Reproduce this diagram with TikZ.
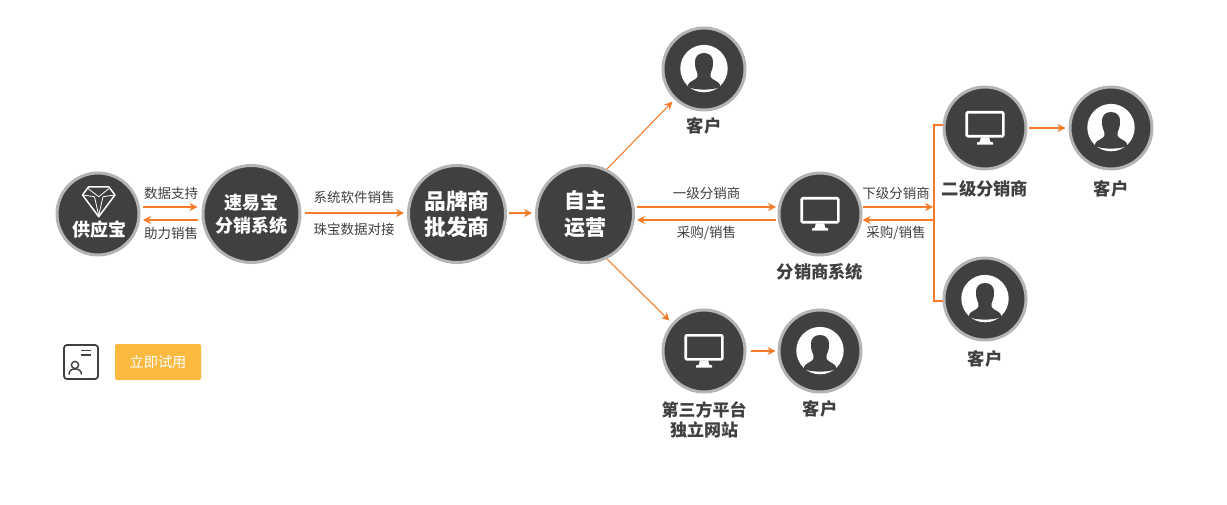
\documentclass[tikz,border=0pt]{standalone}
\usepackage{fontspec}
\setmainfont{Noto Sans CJK SC}
\usetikzlibrary{arrows.meta}
\definecolor{ink}{HTML}{404040}
\definecolor{ring}{HTML}{B4B4B4}
\definecolor{org}{HTML}{F57B28}
\definecolor{btn}{HTML}{FBB940}
\tikzset{
  ball/.style={circle,draw=ring,fill=ink,line width=3,inner sep=0,text=white,align=center,font=\bfseries},
  bsmall/.style={ball,minimum size=82},
  bbig/.style={ball,minimum size=97},
  arr/.style={draw=org,line width=1.05,-{Stealth[length=8,width=8,inset=2.6]}},
  plain/.style={draw=org,line width=1.05},
  lab/.style={text=ink,inner sep=0,font=\fontsize{13.5}{16}\selectfont},
  captxt/.style={text=ink,inner sep=0,align=center,font=\fontsize{17.3}{21}\selectfont\bfseries},
  captwo/.style={captxt,font=\fontsize{17}{20}\selectfont\bfseries},
  pics/person/.style={code={
    \fill[white] (0,-.4) circle (23.7);
    \fill[ink] (-9,-6) .. controls (-9.5,-12) and (-6,-16) .. (0,-16)
      .. controls (6,-16) and (9.5,-12) .. (9,-6)
      .. controls (9,-1) and (7.5,2) .. (6.7,4) -- (6.7,8)
      .. controls (8,11) and (14,12) .. (15.5,15) -- (16.5,18)
      .. controls (8,21.5) and (-8,21.5) .. (-16.5,18) -- (-15.5,15)
      .. controls (-14,12) and (-8,11) .. (-6.7,8) -- (-6.7,4)
      .. controls (-7.5,2) and (-9,-1) .. (-9,-6) -- cycle;
  }},
  pics/monitor/.style={code={
    \draw[white,line width=2.6,rounded corners=1,line join=round] (-18.3,-15.7) rectangle (18.3,8.3);
    \fill[white] (-4.3,9.3) -- (4.3,9.3) -- (5,13.5) -- (8,14.5) -- (8,16.7) -- (-8,16.7) -- (-8,14.5) -- (-5,13.5) -- cycle;
  }},
  pics/gem/.style={code={
    \draw[white,line width=1.5,line join=round] (-9.5,-14.5) -- (11,-14.5) -- (17,-6.5) -- (.7,15.2) -- (-15.5,-6.5) -- cycle;
    \draw[white,line width=.8,line join=round] (-10,-13) -- (.7,-4.8) -- (11,-13);
    \draw[white,line width=.8,line join=round] (-15.5,-6.5) -- (-3.5,-4.8) (5,-4.8) -- (17,-6.5);
    \draw[white,line width=.8,line join=round] (-3.5,-4.8) -- (.7,14) -- (5,-4.8);
  }},
}
\begin{document}
\begin{tikzpicture}[x=1pt,y=-1pt]
\useasboundingbox (0,0) rectangle (1227,505);
% main balls
\node[bsmall] (gys) at (98,214) {};
\pic at (98,201.5) {gem};
\node[text=white,inner sep=0,font=\fontsize{18}{21}\selectfont\bfseries] (gystxt) at (99,230) {供应宝};
\node[bbig,font=\fontsize{18}{22.5}\selectfont\bfseries] (sys) at (251.5,214) {速易宝\\分销系统};
\node[bbig,font=\fontsize{21.7}{26}\selectfont\bfseries] (ppp) at (457,214) {品牌商\\批发商};
\node[bbig,font=\fontsize{21}{26.5}\selectfont\bfseries] (zz) at (585,214) {自主\\运营};
\node[bsmall] (fx) at (820,214) {};
\pic at (820,214) {monitor};
\node[bsmall] (top) at (704,69) {};
\pic at (704,69) {person};
\node[bsmall] (ej) at (985,128) {};
\pic at (985,128) {monitor};
\node[bsmall] (ejk) at (1111,128) {};
\pic at (1111,128) {person};
\node[bsmall] (low) at (985,299) {};
\pic at (985,299) {person};
\node[bsmall] (dsf) at (704,351) {};
\pic at (704,351) {monitor};
\node[bsmall] (dsfk) at (820,351) {};
\pic at (820,351) {person};
% captions
\node[captxt] (c1) at (704,126) {客户};
\node[captxt] (c2) at (820,272) {分销商系统};
\node[captxt] (c3) at (985,189) {二级分销商};
\node[captxt] (c4) at (1111,189) {客户};
\node[captxt] (c5) at (985,359) {客户};
\node[captwo] (c6) at (704,419.5) {第三方平台\\独立网站};
\node[captxt] (c7) at (820,409) {客户};
% labels
\node[lab] (l1) at (171,193) {数据支持};
\node[lab] (l2) at (171,233) {助力销售};
\node[lab] (l3) at (354,197) {系统软件销售};
\node[lab] (l4) at (354,229) {珠宝数据对接};
\node[lab] (l5) at (706.5,193) {一级分销商};
\node[lab] (l6) at (706.5,233) {采购/销售};
\node[lab] (l7) at (896,193) {下级分销商};
\node[lab] (l8) at (896,233) {采购/销售};
% connectors
\draw[arr,shorten <=2.5,shorten >=4] ([yshift=7]gys.east) -- ([yshift=7]sys.west);
\draw[arr,shorten <=4,shorten >=2.5] ([yshift=-6]sys.west) -- ([yshift=-6]gys.east);
\draw[arr,shorten <=3,shorten >=3] ([yshift=1]sys.east) -- ([yshift=1]ppp.west);
\draw[arr,shorten <=2,shorten >=3] ([yshift=1]ppp.east) -- ([yshift=1]zz.west);
\draw[arr,shorten <=0,shorten >=3] (zz.64) -- (top.226);
\draw[arr,shorten <=0,shorten >=3.5] (zz.-64) -- (dsf.139);
\draw[arr,shorten <=2,shorten >=1.5] ([yshift=7]zz.east) -- ([yshift=7]fx.west);
\draw[arr,shorten <=1.5,shorten >=2] ([yshift=-6]fx.west) -- ([yshift=-6]zz.east);
\draw[arr,shorten <=4,shorten >=2] (dsf.east) -- (dsfk.west);
\draw[arr,shorten <=1.5,shorten >=3] (ej.east) -- (ejk.west);
\coordinate (bt) at (934,125);
\coordinate (bb) at (934,301);
\coordinate (bi) at (933,207);
\coordinate (bo) at (934,220);
\draw[arr] ([yshift=7]fx.east) -- (bi);
\draw[arr] (bo) -- ([yshift=-6]fx.east);
\draw[plain] (ej.west |- bt) -- (bt) -- (bb) -- (low.west |- bb);
% lower left
\node[draw=ink,line width=1.8,rounded corners=3,minimum width=34,minimum height=34,inner sep=0] (card) at (81,362) {};
\draw[ink,line width=1.4] (81,350.7) -- (91,350.7) (81,355) -- (91,355);
\draw[ink,line width=1.4] (75,365) circle (3.6);
\draw[ink,line width=1.4] (69,374.5) .. controls (69,370.5) and (71.5,369) .. (75,369) .. controls (78.5,369) and (81.5,370.5) .. (81.5,374.5);
\node[fill=btn,rounded corners=1.5,minimum width=86,minimum height=36,inner sep=0,text=white,font=\fontsize{14.2}{17}\selectfont] (try) at (158,362) {立即试用};
\end{tikzpicture}
\end{document}
